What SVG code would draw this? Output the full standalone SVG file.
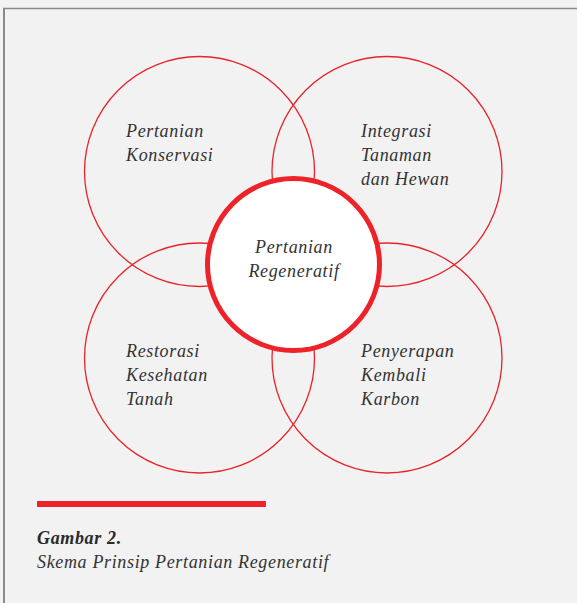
<svg xmlns="http://www.w3.org/2000/svg" width="577" height="603" viewBox="0 0 577 603">
<style>
.lbl{font-family:"Liberation Serif","Times New Roman",serif;font-style:italic;font-size:18px;letter-spacing:0.65px;fill:#333333}
.ring{fill:none;stroke:#e8232b;stroke-width:1.3}
</style>
<rect x="0" y="0" width="577" height="603" fill="#f2f2f2"/>
<line x1="4" y1="8" x2="4" y2="603" stroke="#8a8a8a" stroke-width="2"/>
<line x1="3" y1="8.5" x2="577" y2="8.5" stroke="#8a8a8a" stroke-width="1.6"/>
<g id="connectors"></g>
<g id="pertanian-konservasi">
<circle class="ring" cx="199.5" cy="171.5" r="115"/>
<text class="lbl" x="126" y="137">Pertanian</text>
<text class="lbl" x="126" y="161">Konservasi</text>
</g>
<g id="integrasi-tanaman">
<circle class="ring" cx="387" cy="171.5" r="115"/>
<text class="lbl" x="361" y="137">Integrasi</text>
<text class="lbl" x="361" y="161">Tanaman</text>
<text class="lbl" x="361" y="185">dan Hewan</text>
</g>
<g id="restorasi-tanah">
<circle class="ring" cx="199.5" cy="358" r="115"/>
<text class="lbl" x="126" y="357">Restorasi</text>
<text class="lbl" x="126" y="381">Kesehatan</text>
<text class="lbl" x="126" y="405">Tanah</text>
</g>
<g id="penyerapan-karbon">
<circle class="ring" cx="387" cy="358" r="115"/>
<text class="lbl" x="361" y="357">Penyerapan</text>
<text class="lbl" x="361" y="381">Kembali</text>
<text class="lbl" x="361" y="405">Karbon</text>
</g>
<g id="pertanian-regeneratif">
<circle cx="293.5" cy="264.5" r="86" fill="#ffffff" stroke="#ee2229" stroke-width="5"/>
<text class="lbl" x="294" y="253" text-anchor="middle">Pertanian</text>
<text class="lbl" x="294" y="277" text-anchor="middle">Regeneratif</text>
</g>
<g id="caption">
<rect x="37" y="501" width="229" height="6" fill="#ee2229"/>
<text x="37" y="544" font-family="'Liberation Serif','Times New Roman',serif" font-style="italic" font-weight="bold" font-size="18" letter-spacing="0.65" fill="#2a2a2a">Gambar 2.</text>
<text class="lbl" x="37" y="568">Skema Prinsip Pertanian Regeneratif</text>
</g>
</svg>
